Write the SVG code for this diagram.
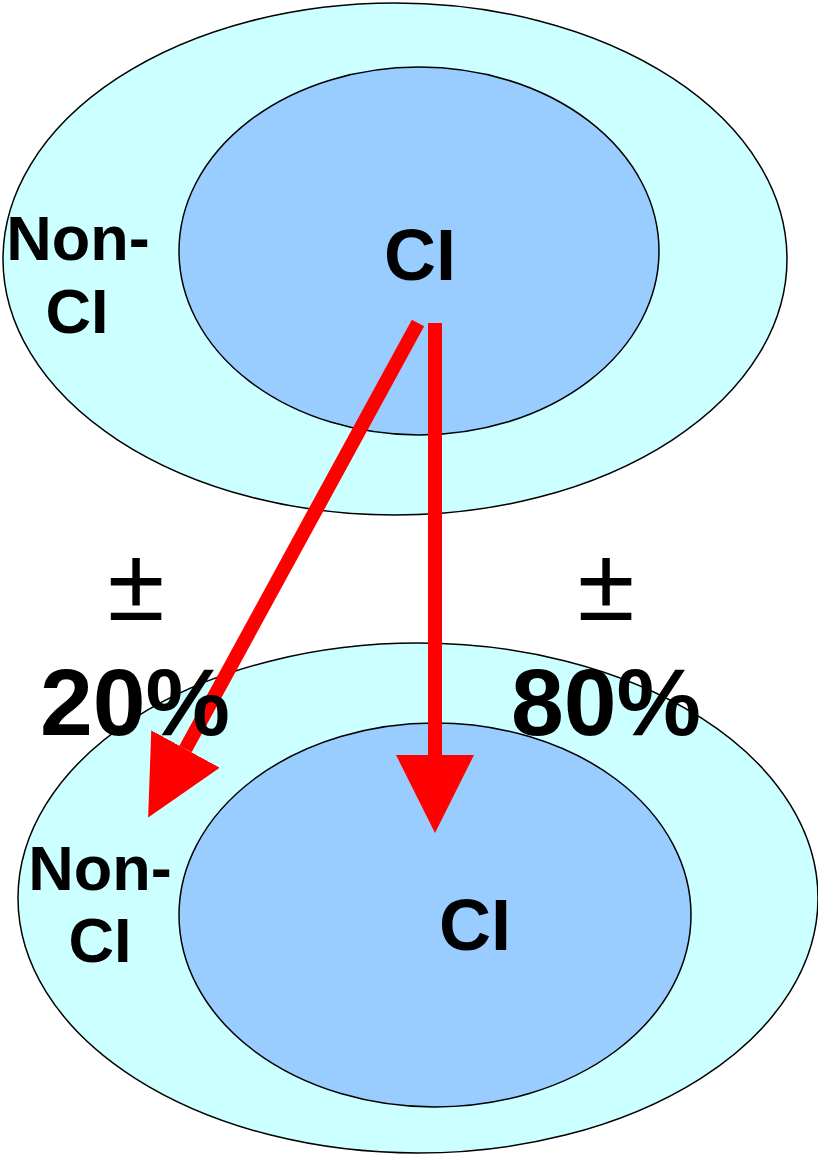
<svg xmlns="http://www.w3.org/2000/svg" width="818" height="1156" viewBox="0 0 818 1156">
<style>
.outer{fill:#CCFFFF;stroke:#000;stroke-width:1.5}
.inner{fill:#99CCFF;stroke:#000;stroke-width:1.5}
.lbl{font-family:"Liberation Sans",Arial,sans-serif;font-weight:bold;fill:#000;text-anchor:middle}
.pm{font-family:"Liberation Sans",Arial,sans-serif;font-weight:normal;fill:#000;text-anchor:middle;font-size:104px}
.arrow{stroke:#FF0000;stroke-width:14;fill:none;marker-end:url(#head)}
</style>
<defs>
<marker id="head" viewBox="0 0 78 78" markerWidth="78" markerHeight="78" refX="0" refY="39" orient="auto" markerUnits="userSpaceOnUse">
<path d="M0,0 L78,39 L0,78 Z" fill="#FF0000"/>
</marker>
</defs>
<g id="top-outer">
<ellipse class="outer" cx="395" cy="259" rx="392" ry="256"/>
<text class="lbl" x="78" y="260" font-size="63">Non-</text>
<text class="lbl" x="77" y="333" font-size="63">CI</text>
</g>
<g id="top-inner">
<ellipse class="inner" cx="419" cy="251" rx="240" ry="184"/>
<text class="lbl" x="420" y="280" font-size="72">CI</text>
</g>
<g id="bottom-outer">
<ellipse class="outer" cx="418" cy="898" rx="400" ry="255"/>
<text class="lbl" x="100" y="890" font-size="63">Non-</text>
<text class="lbl" x="100" y="962" font-size="63">CI</text>
</g>
<g id="bottom-inner">
<ellipse class="inner" cx="435" cy="915" rx="256" ry="192"/>
<text class="lbl" x="475" y="950" font-size="72">CI</text>
</g>
<g id="connectors">
<line class="arrow" x1="418" y1="323" x2="185.5" y2="749"/>
<line class="arrow" x1="435" y1="323" x2="435" y2="755"/>
</g>
<g id="label-20">
<text class="pm" x="136" y="620">±</text>
<text class="lbl" x="135" y="735" font-size="95">20%</text>
</g>
<g id="label-80">
<text class="pm" x="606" y="620">±</text>
<text class="lbl" x="606" y="735" font-size="95">80%</text>
</g>
</svg>
